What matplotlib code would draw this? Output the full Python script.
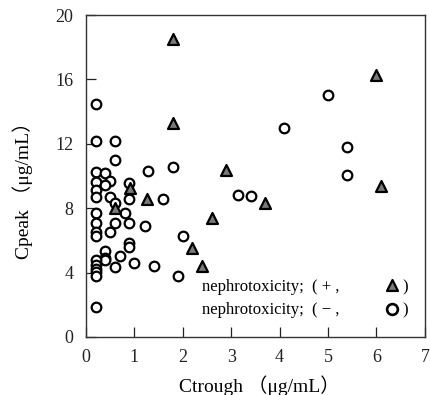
import matplotlib
matplotlib.use("Agg")
import matplotlib.pyplot as plt

# nephrotoxicity positive (triangles)
pos_trough = [1.8, 1.8, 6.0, 2.9, 6.1, 3.7, 1.25, 0.9, 0.6, 2.6, 2.2, 2.4]
pos_peak = [18.5, 13.3, 16.3, 10.4, 9.4, 8.3, 8.6, 9.25, 8.0, 7.4, 5.5, 4.4]

# nephrotoxicity negative (circles)
neg_trough = [0.2, 0.2, 0.6, 0.6, 0.2, 0.4, 1.28, 1.8,
              0.2, 0.5, 0.88, 0.2, 0.4, 0.2, 0.5, 0.88, 1.6, 0.6,
              0.2, 0.8, 0.2, 0.6, 0.88, 1.22,
              0.2, 0.2, 0.5, 2.0, 0.88, 0.88, 0.4, 0.4, 0.4, 0.7, 0.6, 1.0, 1.4, 1.9,
              0.2, 0.2, 0.2, 0.2, 0.2, 0.2,
              5.0, 4.1, 5.4, 5.4, 3.15, 3.4]
neg_peak = [14.5, 12.2, 12.2, 11.0, 10.25, 10.2, 10.3, 10.55,
            9.65, 9.7, 9.55, 9.1, 9.45, 8.7, 8.7, 8.6, 8.6, 8.3,
            7.7, 7.7, 7.1, 7.05, 7.05, 6.9,
            6.55, 6.3, 6.5, 6.3, 5.85, 5.6, 5.35, 4.9, 4.75, 5.0, 4.35, 4.6, 4.4, 3.8,
            4.75, 4.5, 4.25, 4.05, 3.8, 1.85,
            15.0, 13.0, 11.8, 10.05, 8.8, 8.75]

x_ticks = [0, 1, 2, 3, 4, 5, 6, 7]
y_ticks = [0, 4, 8, 12, 16, 20]

FONT = ["Liberation Serif", "Noto Sans CJK JP", "DejaVu Sans"]
plt.rcParams["font.family"] = FONT

fig = plt.figure(figsize=(4.3, 3.95), dpi=100)
ax = fig.add_axes([0.2, 0.147, 0.788, 0.815])

ax.scatter(neg_trough, neg_peak, s=48, marker="o", facecolor="white",
           edgecolor="black", linewidths=1.6, zorder=3, clip_on=False)
ax.scatter(pos_trough, pos_peak, s=62, marker="^", facecolor="#7a7a7a",
           edgecolor="black", linewidths=1.6, zorder=4, clip_on=False)

ax.set_xlim(0, 7)
ax.set_ylim(0, 20)
ax.set_xticks(x_ticks)
ax.set_yticks(y_ticks)
ax.tick_params(direction="in", length=7, width=0.9, pad=9,
               labelsize=13, colors="#222")
for sp in ax.spines.values():
    sp.set_linewidth(1.0)
    sp.set_color("#333")

ax.set_xlabel("Ctrough （μg/mL）", fontsize=14, labelpad=2)
ax.set_ylabel("Cpeak （μg/mL）", fontsize=14, labelpad=6)
ax.xaxis.set_label_coords(0.513, -0.12)
ax.yaxis.set_label_coords(-0.155, 0.47)

# legend drawn as text with inline markers
ax.text(0.342, 0.155, "nephrotoxicity;  ( + ,", transform=ax.transAxes,
        fontsize=12, va="center", ha="left")
ax.scatter([0.904], [0.160], s=62, marker="^", facecolor="#7a7a7a",
           edgecolor="black", linewidths=1.6, transform=ax.transAxes,
           clip_on=False, zorder=5)
ax.text(0.934, 0.155, ")", transform=ax.transAxes, fontsize=12,
        va="center", ha="left")
ax.text(0.342, 0.084, "nephrotoxicity;  ( − ,", transform=ax.transAxes,
        fontsize=12, va="center", ha="left")
ax.scatter([0.904], [0.086], s=60, marker="o", facecolor="white",
           edgecolor="black", linewidths=1.9, transform=ax.transAxes,
           clip_on=False, zorder=5)
ax.text(0.934, 0.084, ")", transform=ax.transAxes, fontsize=12,
        va="center", ha="left")

fig.savefig("out.png", dpi=100)
